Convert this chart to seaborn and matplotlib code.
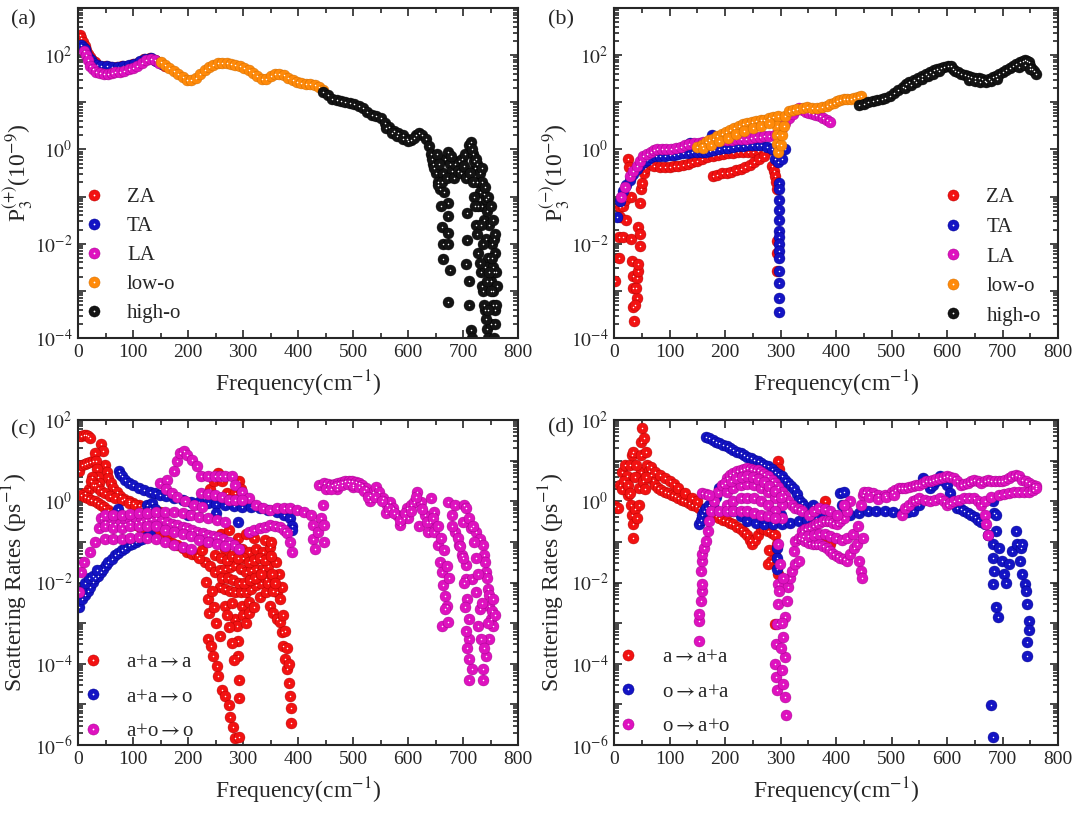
import numpy as np
import pandas as pd
import matplotlib
matplotlib.use('Agg')
import matplotlib.pyplot as plt
import seaborn as sns
from matplotlib.lines import Line2D
from matplotlib.ticker import LogLocator, MultipleLocator, NullFormatter

# ---------------- data: (frequency cm-1, log10 value) ----------------
# (a) P3(+)
a_za = [(3, 2.42), (6, 2.36), (9, 2.28), (12, 2.2), (15, 2.1), (18, 2.02), (21, 1.96), (25, 1.9), (30, 1.85),
        (35, 1.8), (40, 1.78), (50, 1.76), (60, 1.74), (70, 1.74), (80, 1.76), (90, 1.78), (100, 1.81),
        (110, 1.86), (120, 1.91), (130, 1.94), (140, 1.9), (150, 1.83), (158, 1.76)]
a_ta = [(6, 2.22), (9, 2.18), (12, 2.12), (15, 2.04), (19, 1.96), (23, 1.9), (28, 1.84), (34, 1.8), (42, 1.77),
        (52, 1.76), (62, 1.74), (72, 1.74), (82, 1.76), (92, 1.79), (102, 1.82), (112, 1.87), (122, 1.92),
        (132, 1.93), (142, 1.88), (152, 1.81)]
a_la = [(10, 2.08), (14, 2.0), (18, 1.9), (22, 1.78), (27, 1.7), (33, 1.65), (40, 1.62), (47, 1.6), (54, 1.61),
        (61, 1.62), (68, 1.64), (76, 1.65), (84, 1.67), (92, 1.7), (100, 1.73), (108, 1.78), (116, 1.84),
        (124, 1.89), (132, 1.92), (140, 1.9), (148, 1.84)]
a_low = [(150, 1.86), (158, 1.8), (166, 1.73), (174, 1.66), (182, 1.6), (190, 1.54), (198, 1.48), (206, 1.47),
         (214, 1.52), (222, 1.6), (230, 1.68), (238, 1.75), (246, 1.8), (254, 1.83), (262, 1.84), (270, 1.84),
         (278, 1.82), (286, 1.79), (294, 1.76), (302, 1.72), (310, 1.68), (318, 1.62), (326, 1.55), (334, 1.5),
         (342, 1.49), (350, 1.55), (358, 1.6), (366, 1.6), (374, 1.57), (382, 1.52), (390, 1.47), (398, 1.43),
         (406, 1.41), (414, 1.39), (422, 1.38), (430, 1.36), (438, 1.33), (446, 1.27)]
a_high = [(446, 1.22), (454, 1.15), (462, 1.08), (470, 1.04), (478, 1.02), (486, 1.01), (494, 0.99), (502, 0.96),
          (510, 0.92), (518, 0.87), (526, 0.8), (534, 0.74), (542, 0.71), (550, 0.66), (558, 0.56), (566, 0.47),
          (574, 0.4), (582, 0.35), (590, 0.3), (598, 0.23), (606, 0.2), (614, 0.3), (620, 0.35), (626, 0.3),
          (632, 0.22), (638, 0.08), (642, -0.1), (646, -0.3), (650, -0.5), (654, -0.7), (658, -0.85), (664, -0.5),
          (668, -0.2), (672, -0.05), (676, -0.3), (680, -0.45), (686, -0.3), (692, -0.25), (698, -0.2),
          (704, -0.1), (710, 0.1), (714, 0.15), (718, -0.1), (722, -0.4), (726, -0.7), (730, -0.9), (734, -1.2),
          (738, -1.5), (742, -1.9), (746, -2.3), (750, -2.8), (754, -3.3), (758, -3.4), (756, -2.6), (752, -2.0),
          (748, -1.6), (744, -1.3), (560, 0.45), (570, 0.35), (580, 0.28), (590, 0.22), (600, 0.18), (610, 0.25),
          (661, -1.64), (664, -2.0), (664, -2.33), (673, -1.42), (673, -1.13), (673, -1.78), (673, -2.01),
          (676, -2.55), (673, -3.24), (655, -0.76), (660, -1.2), (708, -1.35), (708, -1.93), (705, -2.44),
          (711, -2.8), (711, -3.3), (714, -3.82), (716, -4.0), (720, -1.0), (724, -1.6), (728, -2.2), (732, -2.6),
          (736, -3.0), (740, -3.4), (744, -3.8), (740, -2.5), (736, -2.0), (732, -1.6), (728, -1.2), (746, -4.0),
          (750, -3.7), (754, -3.0), (758, -3.7), (760, -3.3), (756, -4.0), (762, -2.9), (726, -0.3), (730, -0.5),
          (734, -0.7), (738, -0.95), (742, -1.05), (644, -0.2), (648, -0.4), (652, -0.1), (656, -0.3),
          (662, -0.7), (666, -0.9), (670, -0.6), (678, -0.15), (684, -0.6), (690, -0.45), (696, -0.5),
          (702, -0.35), (706, -0.6), (712, -0.5), (716, 0.0), (720, -0.25), (724, -0.2), (718, -0.7),
          (722, -1.2), (726, -1.8), (730, -2.4), (734, -2.9), (738, -3.3), (742, -3.6), (746, -3.4),
          (750, -3.0), (754, -2.5), (758, -2.2), (760, -2.6), (744, -2.8), (748, -2.6), (752, -2.3),
          (756, -1.9), (735, -0.4), (740, -0.8), (745, -1.0), (750, -1.2), (754, -1.5), (758, -1.8),
          (738, -4.1), (742, -4.3), (748, -4.2)]

# (b) P3(-)
b_za = [(2.5, -2.8), (9, -2.3), (9, -1.86), (16, -1.86), (11, -1.23), (16, -1.21), (11, -1.43), (22, -1.5),
        (19, -1.07), (25, -0.2), (27, -0.38), (30, -0.56), (30, -1.0), (30, -1.9), (32, -2.37), (34, -2.69),
        (35, -2.95), (35, -3.34), (36, -3.63), (41, -3.16), (41, -2.73), (43, -2.58), (44, -1.65), (46, -1.79),
        (46, -2.04), (44, -2.44), (40, -2.95), (38, -3.3), (47, -1.14), (48, -0.85), (50, -0.71), (54, -0.49),
        (47, -0.35), (56, -0.4), (60, -0.27), (66, -0.3), (72, -0.35), (82, -0.37), (91, -0.38), (100, -0.37),
        (108, -0.36), (116, -0.35), (125, -0.32), (133, -0.3), (141, -0.27), (150, -0.24), (159, -0.2),
        (168, -0.16), (178, -0.13), (188, -0.11), (197, -0.09), (206, -0.08), (215, -0.07), (224, -0.06),
        (233, -0.06), (242, -0.05), (251, -0.05), (260, -0.04), (268, -0.03), (277, -0.02), (178, -0.56),
        (186, -0.54), (194, -0.51), (203, -0.49), (211, -0.47), (220, -0.44), (228, -0.42), (236, -0.38),
        (245, -0.33), (253, -0.27), (262, -0.2), (271, -0.13), (284, -0.35), (288, -0.45), (290, -0.56),
        (292, -0.7), (293, -0.85), (293, -1.94), (293, -2.19), (293, -2.58)]
b_ta = [(5, -1.43), (10, -1.1), (16, -0.89), (22, -0.76), (29, -0.64), (35, -0.53), (41, -0.42), (47, -0.34),
        (54, -0.27), (60, -0.22), (66, -0.17), (75, -0.15), (83, -0.14), (91, -0.13), (100, -0.12), (108, -0.11),
        (116, -0.09), (125, -0.08), (133, -0.07), (137, 0.14), (141, -0.06), (150, -0.06), (158, -0.06),
        (165, -0.06), (173, -0.04), (176, 0.3), (181, -0.02), (190, 0.01), (198, 0.02), (206, 0.04), (215, 0.05),
        (223, 0.07), (232, 0.08), (240, 0.09), (248, 0.09), (257, 0.09), (265, 0.09), (275, 0.06), (284, 0.01),
        (290, -0.2), (296, -0.27), (302, -0.2), (309, 0.01), (298, -0.71), (298, -0.85), (298, -1.07),
        (298, -1.29), (298, -1.5), (298, -1.72), (298, -1.86), (298, -2.01), (298, -2.16), (298, -2.3),
        (298, -2.58), (298, -2.84), (298, -3.16), (298, -3.45)]
b_la = [(13, -1.0), (20, -0.8), (29, -0.56), (35, -0.45), (41, -0.35), (47, -0.24), (53, -0.13), (60, -0.09),
        (66, -0.06), (72, -0.02), (78, 0.01), (86, 0.01), (94, 0.01), (103, 0.01), (111, 0.03), (120, 0.06),
        (128, 0.09), (136, 0.11), (145, 0.13), (153, 0.14), (161, 0.15), (170, 0.16), (178, 0.16), (187, 0.18),
        (195, 0.19), (203, 0.2), (212, 0.21), (220, 0.22), (229, 0.23), (237, 0.23), (246, 0.25), (254, 0.26),
        (263, 0.27), (271, 0.28), (280, 0.29), (290, 0.3), (296, 0.35), (302, 0.45), (309, 0.55), (315, 0.66),
        (322, 0.75), (328, 0.83), (333, 0.88), (340, 0.83), (346, 0.8), (352, 0.77), (358, 0.75), (364, 0.72),
        (371, 0.7), (377, 0.67), (383, 0.63), (389, 0.59)]
b_low = [(150, 0.05), (158, 0.1), (166, 0.16), (172, 0.21), (178, 0.23), (186, 0.28), (194, 0.33), (201, 0.37),
         (209, 0.41), (217, 0.45), (225, 0.49), (233, 0.53), (240, 0.56), (248, 0.58), (256, 0.6), (264, 0.62),
         (271, 0.63), (279, 0.66), (287, 0.68), (296, 0.7), (294, 0.5), (294, 0.3), (294, 0.12), (296, -0.06),
         (300, 0.1), (303, 0.3), (306, 0.5), (309, 0.7), (315, 0.81), (322, 0.84), (330, 0.86), (340, 0.88),
         (348, 0.89), (356, 0.88), (365, 0.88), (374, 0.9), (383, 0.92), (390, 0.96), (396, 0.99), (402, 1.03),
         (408, 1.05), (414, 1.06), (420, 1.07), (427, 1.08), (433, 1.1), (439, 1.12), (445, 1.13), (160, 0.02),
         (175, 0.1), (190, 0.18), (205, 0.25), (220, 0.33), (235, 0.4), (250, 0.45), (265, 0.5), (280, 0.55)]
b_high = [(442, 0.95), (450, 0.97), (458, 1.0), (466, 1.03), (474, 1.05), (482, 1.08), (489, 1.1), (497, 1.14),
          (505, 1.19), (512, 1.25), (520, 1.33), (526, 1.38), (532, 1.42), (540, 1.47), (547, 1.51), (555, 1.55),
          (562, 1.6), (570, 1.64), (576, 1.68), (582, 1.71), (589, 1.73), (595, 1.75), (601, 1.77), (607, 1.78),
          (610, 1.71), (615, 1.67), (620, 1.64), (626, 1.6), (632, 1.57), (638, 1.55), (644, 1.53), (650, 1.52),
          (657, 1.52), (663, 1.5), (669, 1.46), (675, 1.49), (682, 1.53), (688, 1.56), (694, 1.6), (700, 1.64),
          (707, 1.68), (713, 1.73), (719, 1.78), (725, 1.82), (732, 1.86), (737, 1.88), (741, 1.9), (744, 1.87),
          (747, 1.86), (750, 1.78), (753, 1.71), (756, 1.66), (760, 1.6), (525, 1.3), (535, 1.36), (545, 1.44),
          (555, 1.5), (565, 1.56), (575, 1.6), (585, 1.66), (640, 1.48), (650, 1.46), (660, 1.44), (670, 1.42),
          (680, 1.45), (690, 1.5), (730, 1.75), (740, 1.8), (750, 1.7)]

# (c) scattering rates, absorption
c_aaa = [(5, 1.6), (10, 1.63), (14, 1.64), (18, 1.6), (21, 1.56), (2, 0.74), (8, 0.9), (13, 0.92), (17, 0.94),
         (22, 0.96), (27, 0.98), (42, 1.4), (46, 1.23), (49, 0.9), (52, 0.72), (55, 0.57), (60, 0.45), (64, 0.32),
         (70, 0.22), (77, 0.12), (84, 0.06), (92, 0.0), (100, -0.04), (111, -0.09), (120, -0.13), (130, -0.17),
         (140, -0.22), (149, -0.26), (30, 1.2), (32, 1.0), (34, 0.8), (36, 0.6), (38, 0.45), (25, 0.6), (27, 0.4),
         (20, 0.3), (12, 0.2), (5, 0.16), (12, 0.1), (18, 0.07), (24, 0.03), (30, 0.0), (36, -0.05), (42, -0.09),
         (48, -0.15), (55, -0.21), (61, -0.28), (67, -0.34), (76, -0.38), (86, -0.42), (95, -0.5), (105, -0.59),
         (114, -0.65), (124, -0.71), (133, -0.77), (142, -0.83), (152, -0.9), (161, -0.96), (170, -1.02),
         (180, -1.08), (190, -1.16), (199, -1.25), (208, -1.29), (217, -1.33), (24, 0.49), (30, 0.4), (36, 0.32),
         (42, 0.26), (49, 0.2), (58, 0.14), (68, 0.08), (80, 0.02), (92, -0.04), (104, -0.1), (116, -0.15),
         (240, 0.3), (248, 0.5), (255, 0.69), (262, 0.5), (270, 0.2), (285, 0.2), (292, 0.49), (296, 0.3),
         (300, 0.0), (230, -1.5), (249, -1.33), (267, -1.17), (286, -1.08), (299, -1.17), (311, -1.25),
         (324, -1.17), (336, -1.25), (349, -1.12), (240, -1.6), (249, -1.74), (258, -1.7), (267, -1.66),
         (277, -1.62), (286, -1.58), (296, -1.66), (305, -1.74), (315, -1.7), (324, -1.66), (336, -1.66),
         (345, -1.6), (258, -2.1), (267, -2.16), (277, -2.2), (286, -2.24), (296, -2.24), (305, -2.24),
         (315, -2.15), (324, -2.07), (333, -2.0), (342, -1.91), (267, -2.57), (280, -2.5), (299, -2.57),
         (311, -2.49), (330, -2.35), (342, -2.24), (220, -1.4), (225, -1.2), (235, -1.0), (245, -0.9),
         (260, -0.8), (275, -0.7), (290, -0.9), (305, -0.8), (320, -0.9), (340, -0.95), (350, -1.0),
         (233, -1.99), (236, -2.4), (239, -2.74), (236, -3.4), (242, -3.56), (245, -3.81), (252, -4.06),
         (255, -4.3), (258, -3.31), (250, -3.0), (247, -2.6), (244, -2.2), (261, -4.64), (267, -4.8),
         (274, -5.01), (277, -5.3), (281, -5.55), (285, -5.83), (292, -5.8), (286, -2.9), (289, -3.07),
         (291, -3.44), (292, -4.39), (292, -4.84), (290, -3.8), (349, -2.57), (355, -2.74), (361, -2.9),
         (367, -2.98), (370, -3.23), (373, -3.56), (377, -3.89), (380, -4.14), (383, -4.47), (385, -4.8),
         (387, -5.09), (387, -5.46), (361, -2.24), (367, -2.4), (372, -2.8), (376, -3.2), (380, -3.6),
         (384, -4.0), (360, -1.5), (365, -1.8), (370, -2.1), (300, -1.4), (310, -1.5), (320, -1.45),
         (330, -1.4), (340, -1.45), (350, -1.35), (260, -1.4), (270, -1.45), (280, -1.35), (290, -1.4),
         (262, -1.9), (272, -1.9), (282, -1.95), (292, -2.0), (302, -2.0), (312, -1.95), (322, -1.9),
         (332, -1.8), (345, -2.0), (355, -2.2), (270, -2.8), (275, -3.1), (280, -3.5), (283, -3.9),
         (300, -2.8), (305, -3.0), (310, -2.75), (320, -2.6), (352, -1.8), (358, -2.0)]
c_aao = [(2, -2.61), (8, -2.4), (13, -2.3), (17.5, -2.2), (22, -2.1), (27, -1.99), (31, -1.9), (36, -1.83),
         (41, -1.75), (46, -1.66), (50, -1.58), (55, -1.5), (61, -1.42), (67, -1.33), (73, -1.27), (80, -1.21),
         (86, -1.15), (92, -1.08), (98, -1.04), (105, -1.0), (111, -0.96), (117, -0.92), (124, -0.88),
         (130, -0.83), (5, -2.2), (12, -2.0), (20, -1.9), (28, -1.85), (35, -1.7), (74, 0.74), (77, 0.68),
         (80, 0.61), (86, 0.53), (92, 0.45), (100, 0.39), (111, 0.32), (120, 0.28), (130, 0.24), (140, 0.2),
         (149, 0.16), (160, 0.12), (174, 0.07), (190, 0.03), (205, -0.01), (220, -0.03), (236, -0.05),
         (250, -0.07), (267, -0.09), (283, -0.11), (299, -0.13), (315, -0.15), (330, -0.17), (345, -0.21),
         (361, -0.26), (374, -0.33), (386, -0.42), (389, -0.6), (389, -0.71), (70, -0.26), (72, -0.2),
         (125, -0.1), (130, -0.17), (135, -0.05), (140, -0.2), (145, -0.3), (200, -0.35), (250, -0.3),
         (290, -0.5)]
c_aoo = [(2, -2.24), (5, -1.74), (11, -1.5), (21, -1.25), (30, -1.0), (39, -0.67), (42, -0.42), (49, -0.5),
         (58, -0.53), (67, -0.55), (76, -0.55), (86, -0.55), (95, -0.52), (105, -0.5), (114, -0.48), (124, -0.46),
         (133, -0.44), (142, -0.42), (152, -0.46), (161, -0.5), (170, -0.55), (180, -0.59), (190, -0.63),
         (199, -0.67), (208, -0.71), (217, -0.75), (227, -0.79), (236, -0.83), (245, -0.86), (255, -0.88),
         (264, -0.94), (274, -1.0), (283, -1.08), (292, -1.17), (49, -0.92), (64, -0.92), (80, -0.92),
         (95, -0.9), (111, -0.88), (126, -0.9), (142, -0.92), (158, -1.0), (174, -1.08), (190, -1.12),
         (205, -1.17), (49, -0.34), (64, -0.34), (80, -0.34), (95, -0.32), (111, -0.3), (126, -0.28),
         (142, -0.26), (158, -0.26), (174, -0.26), (190, -0.3), (205, -0.34), (220, -0.38), (236, -0.42),
         (252, -0.46), (267, -0.5), (149, 0.45), (161, 0.53), (174, 0.74), (180, 0.98), (186, 1.19), (192, 1.23),
         (199, 1.15), (208, 1.02), (217, 0.86), (224, 0.61), (236, 0.61), (249, 0.61), (258, 0.61), (267, 0.61),
         (280, 0.61), (286, 0.4), (299, 0.24), (311, 0.07), (324, -0.09), (336, -0.17), (349, -0.21),
         (361, -0.17), (374, -0.17), (386, -0.17), (399, -0.21), (411, -0.26), (424, -0.34), (427, -0.59),
         (427, -0.92), (431, -1.17), (436, -0.75), (442, -0.42), (445, -0.09), (448, -0.59), (448, -1.0),
         (311, -0.75), (320, -0.7), (330, -0.67), (340, -0.63), (349, -0.59), (358, -0.6), (367, -0.63),
         (374, -0.7), (380, -0.79), (386, -1.0), (389, -1.25), (224, 0.2), (236, 0.18), (249, 0.16),
         (261, 0.1), (274, 0.03), (286, 0.03), (299, 0.03), (439, 0.4), (448, 0.45), (455, 0.42), (461, 0.4),
         (467, 0.42), (473, 0.45), (480, 0.47), (486, 0.49), (492, 0.49), (498, 0.49), (505, 0.47), (511, 0.45),
         (517, 0.4), (523, 0.32), (530, 0.16), (536, 0.24), (542, 0.36), (548, 0.24), (555, 0.07), (561, -0.09),
         (567, -0.01), (573, -0.17), (580, -0.34), (586, -0.59), (592, -0.42), (598, -0.17), (605, -0.09),
         (611, -0.01), (617, 0.24), (623, -0.01), (630, -0.34), (636, -0.75), (642, 0.07), (648, -0.26),
         (648, -0.75), (655, -1.08), (658, -1.5), (661, -1.74), (664, -2.07), (667, -2.32), (670, -2.57),
         (661, -3.07), (673, -2.98), (667, -2.65), (673, -0.01), (680, -0.34), (686, -0.75), (692, -1.08),
         (698, -1.33), (686, -0.09), (701, -0.09), (705, -0.17), (705, -1.58), (705, -1.91), (708, -2.4),
         (711, -2.9), (711, -3.4), (711, -3.89), (711, -4.39), (717, -4.14), (714, -0.67), (723, -0.75),
         (730, -0.92), (736, -1.08), (739, -1.33), (742, -1.74), (745, -2.16), (748, -2.57), (751, -2.9),
         (755, -3.07), (748, -3.4), (742, -3.81), (736, -4.14), (736, -4.39), (730, -2.65), (727, -3.07),
         (733, -3.4), (723, -2.24), (717, -1.91), (470, 0.3), (500, 0.35), (530, 0.0), (560, -0.3), (600, -0.4),
         (640, -0.5), (620, -0.6), (450, 0.3), (460, 0.3), (470, 0.38), (480, 0.4), (490, 0.42), (500, 0.4),
         (510, 0.35), (520, 0.25), (528, 0.1), (540, 0.1), (552, 0.0), (565, -0.2), (575, -0.3), (585, -0.45),
         (595, -0.3), (605, -0.25), (615, 0.1), (625, -0.2), (635, -0.5), (645, -0.4), (655, -0.6),
         (660, -0.9), (665, -1.2), (670, -1.6), (675, -1.9), (680, -0.6), (690, -0.9), (695, -1.1),
         (700, -0.5), (710, -0.4), (718, -0.6), (700, -1.4), (702, -2.0), (704, -2.6), (706, -3.2),
         (708, -3.6), (740, -1.5), (744, -1.9), (748, -2.3), (752, -2.7), (755, -2.4), (758, -2.8),
         (738, -3.6), (745, -3.0), (735, -2.5), (728, -1.8), (724, -1.4), (720, -1.0), (49, -0.6), (64, -0.65),
         (80, -0.65), (95, -0.62), (111, -0.6), (126, -0.6), (142, -0.62), (158, -0.7), (174, -0.75),
         (190, -0.8), (205, -0.85), (220, -0.95), (236, -1.0), (252, -1.05), (267, -1.1), (160, 0.3),
         (170, 0.2), (180, 0.1), (195, 0.0), (210, -0.1), (225, -0.15)]

# (d) scattering rates, emission
d_aaa = [(1, -0.12), (7, -0.16), (10.5, 0.41), (14, 0.73), (20, 0.9), (23, 0.61), (26, 0.16), (29, 0.9),
         (30, -0.08), (32, 1.14), (32, -0.33), (34, -0.57), (35, 1.22), (35, -0.9), (38, -0.2), (42, -0.41),
         (45, -0.08), (45, 0.33), (48, 0.73), (48, 1.14), (49, 1.47), (50, 1.8), (54, 1.55), (57, 1.22),
         (60, 0.9), (63, 0.75), (66, 0.65), (70, 0.52), (73, 0.41), (79, 0.33), (85, 0.28), (91, 0.24),
         (98, 0.2), (104, 0.16), (110, 0.12), (116, 0.08), (122, 0.04), (128, 0.0), (135, -0.04), (141, -0.08),
         (147, -0.12), (153, -0.16), (160, -0.2), (166, -0.24), (172, -0.28), (178, -0.33), (184, -0.37),
         (190, -0.41), (196, -0.45), (203, -0.49), (209, -0.53), (215, -0.57), (222, -0.63), (228, -0.69),
         (234, -0.75), (240, -0.82), (245, -0.95), (249, -1.06), (254, -0.95), (259, -0.82), (265, -0.65),
         (271, -0.69), (277, -0.73), (284, -0.78), (290, -0.82), (293, -1.06), (290, -1.31), (290, -1.55),
         (296, -1.8), (283, -1.47), (277, -1.55), (280, -1.2), (296, 0.98), (298, 0.8), (290, -3.02), (66, 0.85),
         (73, 0.73), (82, 0.65), (91, 0.57), (100, 0.5), (108, 0.42), (116, 0.33), (128, 0.2), (141, 0.08),
         (150, 0.0), (364, -0.9), (370, -0.95), (376, -0.98), (383, -1.02), (389, -1.06), (380, 0.0),
         (345, -0.7), (355, -0.8), (15, 0.3), (18, 0.5), (25, 0.4), (28, 0.2), (38, 0.6), (40, 0.9), (52, 0.5),
         (55, 0.3), (58, 0.6)]
d_oaa = [(166, 1.59), (172, 1.55), (178, 1.51), (184, 1.47), (190, 1.43), (197, 1.39), (203, 1.35), (209, 1.31),
         (215, 1.27), (222, 1.22), (228, 1.18), (234, 1.14), (240, 1.1), (246, 1.06), (252, 1.02), (259, 0.98),
         (265, 0.94), (271, 0.9), (277, 0.86), (284, 0.8), (290, 0.73), (296, 0.67), (302, 0.61), (308, 0.53),
         (314, 0.45), (319, 0.37), (324, 0.29), (329, 0.17), (333, 0.04), (338, -0.04), (343, -0.12),
         (153, -0.57), (156, -0.45), (159, -0.33), (162, -0.24), (166, -0.16), (172, -0.1), (178, -0.08),
         (184, 0.1), (190, 0.33), (215, -0.24), (228, -0.37), (240, -0.49), (255, -0.53), (271, -0.57),
         (286, -0.57), (302, -0.57), (318, -0.53), (333, -0.49), (348, -0.45), (364, -0.41), (380, -0.37),
         (395, -0.33), (407, 0.2), (411, -0.08), (414, 0.24), (414, -0.33), (417, -0.08), (426, -0.33),
         (441, -0.28), (457, -0.24), (472, -0.24), (488, -0.24), (503, -0.26), (519, -0.29), (530, -0.27),
         (538, -0.24), (550, -0.08), (556, 0.57), (562, 0.45), (569, 0.33), (575, 0.41), (581, 0.49),
         (587, 0.61), (594, 0.5), (600, 0.41), (606, 0.2), (612, 0.0), (618, -0.16), (625, -0.2), (631, -0.24),
         (637, -0.28), (643, -0.33), (650, -0.39), (656, -0.45), (662, -0.51), (668, -0.57), (674, -0.82),
         (682, -1.06), (682, 0.0), (685, -0.3), (688, -0.33), (688, -0.73), (682, -1.39), (685, -1.71),
         (682, -2.04), (688, -2.61), (691, -2.86), (693, -1.14), (699, -1.47), (702, -1.8), (706, -2.0),
         (711, -1.55), (718, -1.22), (724, -0.73), (727, -1.06), (731, -1.47), (733, -1.14), (736, -1.8),
         (736, -1.06), (740, -2.04), (742, -2.2), (745, -2.53), (748, -2.94), (748, -3.18), (745, -3.47),
         (745, -3.8), (680, -5.02), (683, -5.8), (293, -1.14), (293, -1.39), (293, -1.67), (358, -0.08),
         (300, -0.35), (270, -0.4)]
d_oao = [(153, -3.43), (153, -2.94), (154, -2.78), (156, -2.45), (158, -2.2), (159, -2.04), (156, -1.71),
         (158, -1.47), (159, -1.31), (162, -1.14), (166, -0.98), (169, -0.73), (172, -0.49), (175, -0.24),
         (181, 0.0), (187, 0.24), (194, 0.41), (203, 0.57), (209, 0.64), (215, 0.69), (222, 0.74), (228, 0.78),
         (234, 0.8), (240, 0.82), (246, 0.8), (252, 0.78), (259, 0.76), (265, 0.73), (271, 0.67), (277, 0.61),
         (284, 0.53), (290, 0.45), (296, 0.35), (302, 0.24), (308, 0.12), (314, 0.0), (320, -0.08), (327, -0.16),
         (333, -0.2), (339, -0.24), (159, 0.2), (166, 0.18), (172, 0.16), (203, 0.24), (215, 0.33), (228, 0.41),
         (240, 0.42), (252, 0.41), (265, 0.33), (277, 0.24), (290, 0.08), (302, -0.08), (203, -0.08),
         (215, 0.0), (228, 0.08), (240, 0.09), (252, 0.08), (265, 0.0), (277, -0.08), (290, -0.25),
         (302, -0.41), (190, -0.24), (203, -0.24), (215, -0.24), (228, -0.24), (240, -0.24), (252, -0.28),
         (265, -0.33), (277, -0.37), (290, -0.41), (296, -1.06), (299, -1.55), (296, -2.04), (295, -2.53),
         (293, -3.02), (291, -3.51), (290, -4.0), (291, -4.33), (293, -4.65), (302, -4.16), (305, -4.49),
         (308, -4.82), (310, -5.27), (308, -3.84), (305, -3.35), (308, -2.86), (311, -2.45), (314, -2.12),
         (317, -1.88), (321, -1.71), (327, -1.55), (333, -1.47), (324, -1.22), (327, -0.98), (333, -0.9),
         (339, -0.94), (345, -0.98), (351, -1.02), (358, -1.06), (364, -1.06), (370, -1.06), (376, -1.1),
         (383, -1.14), (389, -1.22), (395, -1.31), (401, -1.35), (407, -1.39), (414, -1.43), (420, -1.47),
         (426, -1.31), (432, -1.14), (438, -1.06), (442, -1.47), (445, -1.71), (446, -1.88), (448, -0.9),
         (445, -0.08), (448, 0.16), (451, 0.24), (339, -0.73), (345, -0.69), (351, -0.65), (358, -0.61),
         (364, -0.57), (370, -0.53), (376, -0.49), (383, -0.49), (389, -0.49), (395, -0.53), (401, -0.57),
         (407, -0.49), (414, -0.41), (420, -0.24), (426, 0.0), (351, -0.33), (360, -0.25), (370, -0.16),
         (380, -0.2), (389, -0.24), (401, -0.33), (414, -0.08), (457, 0.24), (466, 0.2), (476, 0.16),
         (488, 0.16), (500, 0.24), (507, 0.28), (513, 0.33), (519, 0.33), (525, 0.33), (531, 0.35), (538, 0.37),
         (544, 0.39), (550, 0.41), (556, 0.45), (562, 0.49), (569, 0.51), (575, 0.53), (581, 0.55), (587, 0.57),
         (594, 0.59), (600, 0.61), (606, 0.59), (612, 0.57), (618, 0.49), (625, 0.41), (631, 0.43),
         (637, 0.45), (643, 0.49), (649, 0.53), (656, 0.49), (662, 0.45), (668, 0.49), (674, 0.53), (680, 0.51),
         (687, 0.49), (693, 0.49), (699, 0.49), (705, 0.53), (711, 0.57), (718, 0.61), (724, 0.65), (730, 0.61),
         (736, 0.53), (742, 0.49), (748, 0.45), (755, 0.41), (761, 0.37), (519, -0.33), (525, -0.16),
         (531, -0.08), (538, 0.0), (544, 0.04), (550, 0.08), (560, 0.04), (569, 0.0), (578, 0.04), (587, 0.08),
         (594, 0.0), (600, -0.08), (606, -0.04), (612, 0.0), (622, 0.04), (631, 0.08), (640, 0.08),
         (649, 0.08), (656, 0.0), (662, -0.08), (668, -0.33), (671, -0.57), (674, -0.82), (668, 0.0),
         (680, 0.1), (693, 0.16), (702, 0.18), (711, 0.2), (720, 0.22), (730, 0.24), (739, 0.24), (748, 0.24),
         (755, 0.28), (761, 0.33), (200, 0.45), (210, 0.5), (220, 0.58), (230, 0.6), (240, 0.62), (250, 0.6),
         (260, 0.55), (270, 0.48), (280, 0.38), (290, 0.25), (300, 0.1), (340, -0.85), (350, -0.85),
         (360, -0.83), (370, -0.8), (380, -0.8), (390, -0.85), (400, -0.9), (410, -0.95), (420, -0.9),
         (430, -0.8), (440, -0.6), (302, -3.0), (300, -3.6), (298, -2.2), (304, -1.9), (460, 0.1), (475, 0.05),
         (490, 0.1), (505, 0.15)]

# tick labels
big_decades = [1e-4, 1e-3, 1e-2, 1e-1, 1e0, 1e1, 1e2, 1e3]
big_labels = ['$10^{-4}$', '', '$10^{-2}$', '', '$10^{0}$', '', '$10^{2}$', '']
small_decades = [1e-6, 1e-5, 1e-4, 1e-3, 1e-2, 1e-1, 1e0, 1e1, 1e2]
small_labels = ['$10^{-6}$', '', '$10^{-4}$', '', '$10^{-2}$', '', '$10^{0}$', '', '$10^{2}$']
freq_ticks = [0, 100, 200, 300, 400, 500, 600, 700, 800]

# ---------------- style ----------------
sns.set_theme(style='ticks')
plt.rcParams['font.family'] = ['Liberation Serif', 'DejaVu Serif']
plt.rcParams['mathtext.fontset'] = 'stix'
plt.rcParams['axes.linewidth'] = 1.5

RED, BLUE, MAG, ORA, BLK = '#f21212', '#1414c4', '#de12bf', '#ff8a0a', '#141414'
EDGE = {RED: '#b00000', BLUE: '#00008a', MAG: '#a0008a', ORA: '#cc6a00', BLK: '#000000'}

W, H = 1075, 814
fig = plt.figure(figsize=(W / 100, H / 100), dpi=100)


def box(x0, y0, x1, y1):
    # pixel box -> figure fraction
    return [x0 / W, 1 - y1 / H, (x1 - x0) / W, (y1 - y0) / H]


ax_a = fig.add_axes(box(78, 8, 518, 338))
ax_b = fig.add_axes(box(614, 8, 1058, 338))
ax_c = fig.add_axes(box(78, 420, 518, 745))
ax_d = fig.add_axes(box(614, 420, 1058, 745))


def balls(ax, pts, color):
    df = pd.DataFrame(pts, columns=['freq', 'logv'])
    df['val'] = 10.0 ** df['logv']
    sns.scatterplot(data=df, x='freq', y='val', ax=ax, color=color, s=62,
                    edgecolor=EDGE[color], linewidth=0.3, legend=False)
    sns.scatterplot(data=df, x='freq', y='val', ax=ax, color='white', s=1.2,
                    linewidth=0, legend=False)


def style(ax, decades, labels, ylabel, ylab_x):
    ax.set_xlim(0, 800)
    ax.set_ylim(decades[0], decades[-1])
    ax.set_xticks(freq_ticks)
    ax.set_xticklabels([str(t) for t in freq_ticks])
    ax.xaxis.set_minor_locator(MultipleLocator(50))
    ax.set_yticks(decades)
    ax.set_yticklabels(labels)
    ax.yaxis.set_minor_locator(LogLocator(base=10, subs=(2, 3, 4, 5, 6, 7, 8, 9), numticks=20))
    ax.yaxis.set_minor_formatter(NullFormatter())
    ax.tick_params(which='both', direction='in', top=True, right=True, labelsize=14, width=1.2, pad=4)
    ax.tick_params(which='major', length=6)
    ax.tick_params(which='minor', length=3.5)
    ax.set_xlabel('Frequency(cm$^{-1}$)', fontsize=17, labelpad=6)
    ax.set_ylabel(ylabel, fontsize=17)
    ax.yaxis.set_label_coords(ylab_x, 0.5)


def legend(ax, names, colors, anchor, spacing):
    handles = [(Line2D([], [], ls='', marker='o', ms=8, mfc=c, mec=EDGE[c], mew=0.3),
                Line2D([], [], ls='', marker='o', ms=1.3, mfc='white', mec='none')) for c in colors]
    ax.legend(handles, names, loc='upper left', bbox_to_anchor=anchor, frameon=False, fontsize=15,
              handlelength=1.0, handletextpad=1.1, labelspacing=spacing, borderpad=0, borderaxespad=0)


for ax in (ax_a, ax_b, ax_c, ax_d):
    ax.set_yscale('log')

# (a)
for pts, col in [(a_za, RED), (a_ta, BLUE), (a_la, MAG), (a_low, ORA), (a_high, BLK)]:
    balls(ax_a, pts, col)
style(ax_a, big_decades, big_labels, 'P$_3^{(+)}$(10$^{-9}$)', -0.098)
legend(ax_a, ['ZA', 'TA', 'LA', 'low-o', 'high-o'], [RED, BLUE, MAG, ORA, BLK], (0.012, 0.455), 0.45)

# (b)
for pts, col in [(b_za, RED), (b_ta, BLUE), (b_la, MAG), (b_low, ORA), (b_high, BLK)]:
    balls(ax_b, pts, col)
style(ax_b, big_decades, big_labels, 'P$_3^{(-)}$(10$^{-9}$)', -0.095)
legend(ax_b, ['ZA', 'TA', 'LA', 'low-o', 'high-o'], [RED, BLUE, MAG, ORA, BLK], (0.74, 0.455), 0.48)

# (c)
arrow = r'$\rightarrow$'
style(ax_c, small_decades, small_labels, 'Scattering Rates (ps$^{-1}$)', -0.11)
for pts, col in [(c_aaa, RED), (c_aao, BLUE), (c_aoo, MAG)]:
    balls(ax_c, pts, col)
legend(ax_c, ['a+a' + arrow + 'a', 'a+a' + arrow + 'o', 'a+o' + arrow + 'o'], [RED, BLUE, MAG],
       (0.01, 0.285), 0.72)

# (d)
style(ax_d, small_decades, small_labels, 'Scattering Rates (ps$^{-1}$)', -0.105)
for pts, col in [(d_aaa, RED), (d_oaa, BLUE), (d_oao, MAG)]:
    balls(ax_d, pts, col)
legend(ax_d, ['a' + arrow + 'a+a', 'o' + arrow + 'a+a', 'o' + arrow + 'a+o'], [RED, BLUE, MAG],
       (0.009, 0.3), 0.72)

for lab, px, py in [('(a)', 23, 20), ('(b)', 561, 20), ('(c)', 23, 430), ('(d)', 561, 428)]:
    fig.text(px / W, 1 - py / H, lab, fontsize=16, ha='center', va='center')

fig.savefig('out.png', dpi=100)
